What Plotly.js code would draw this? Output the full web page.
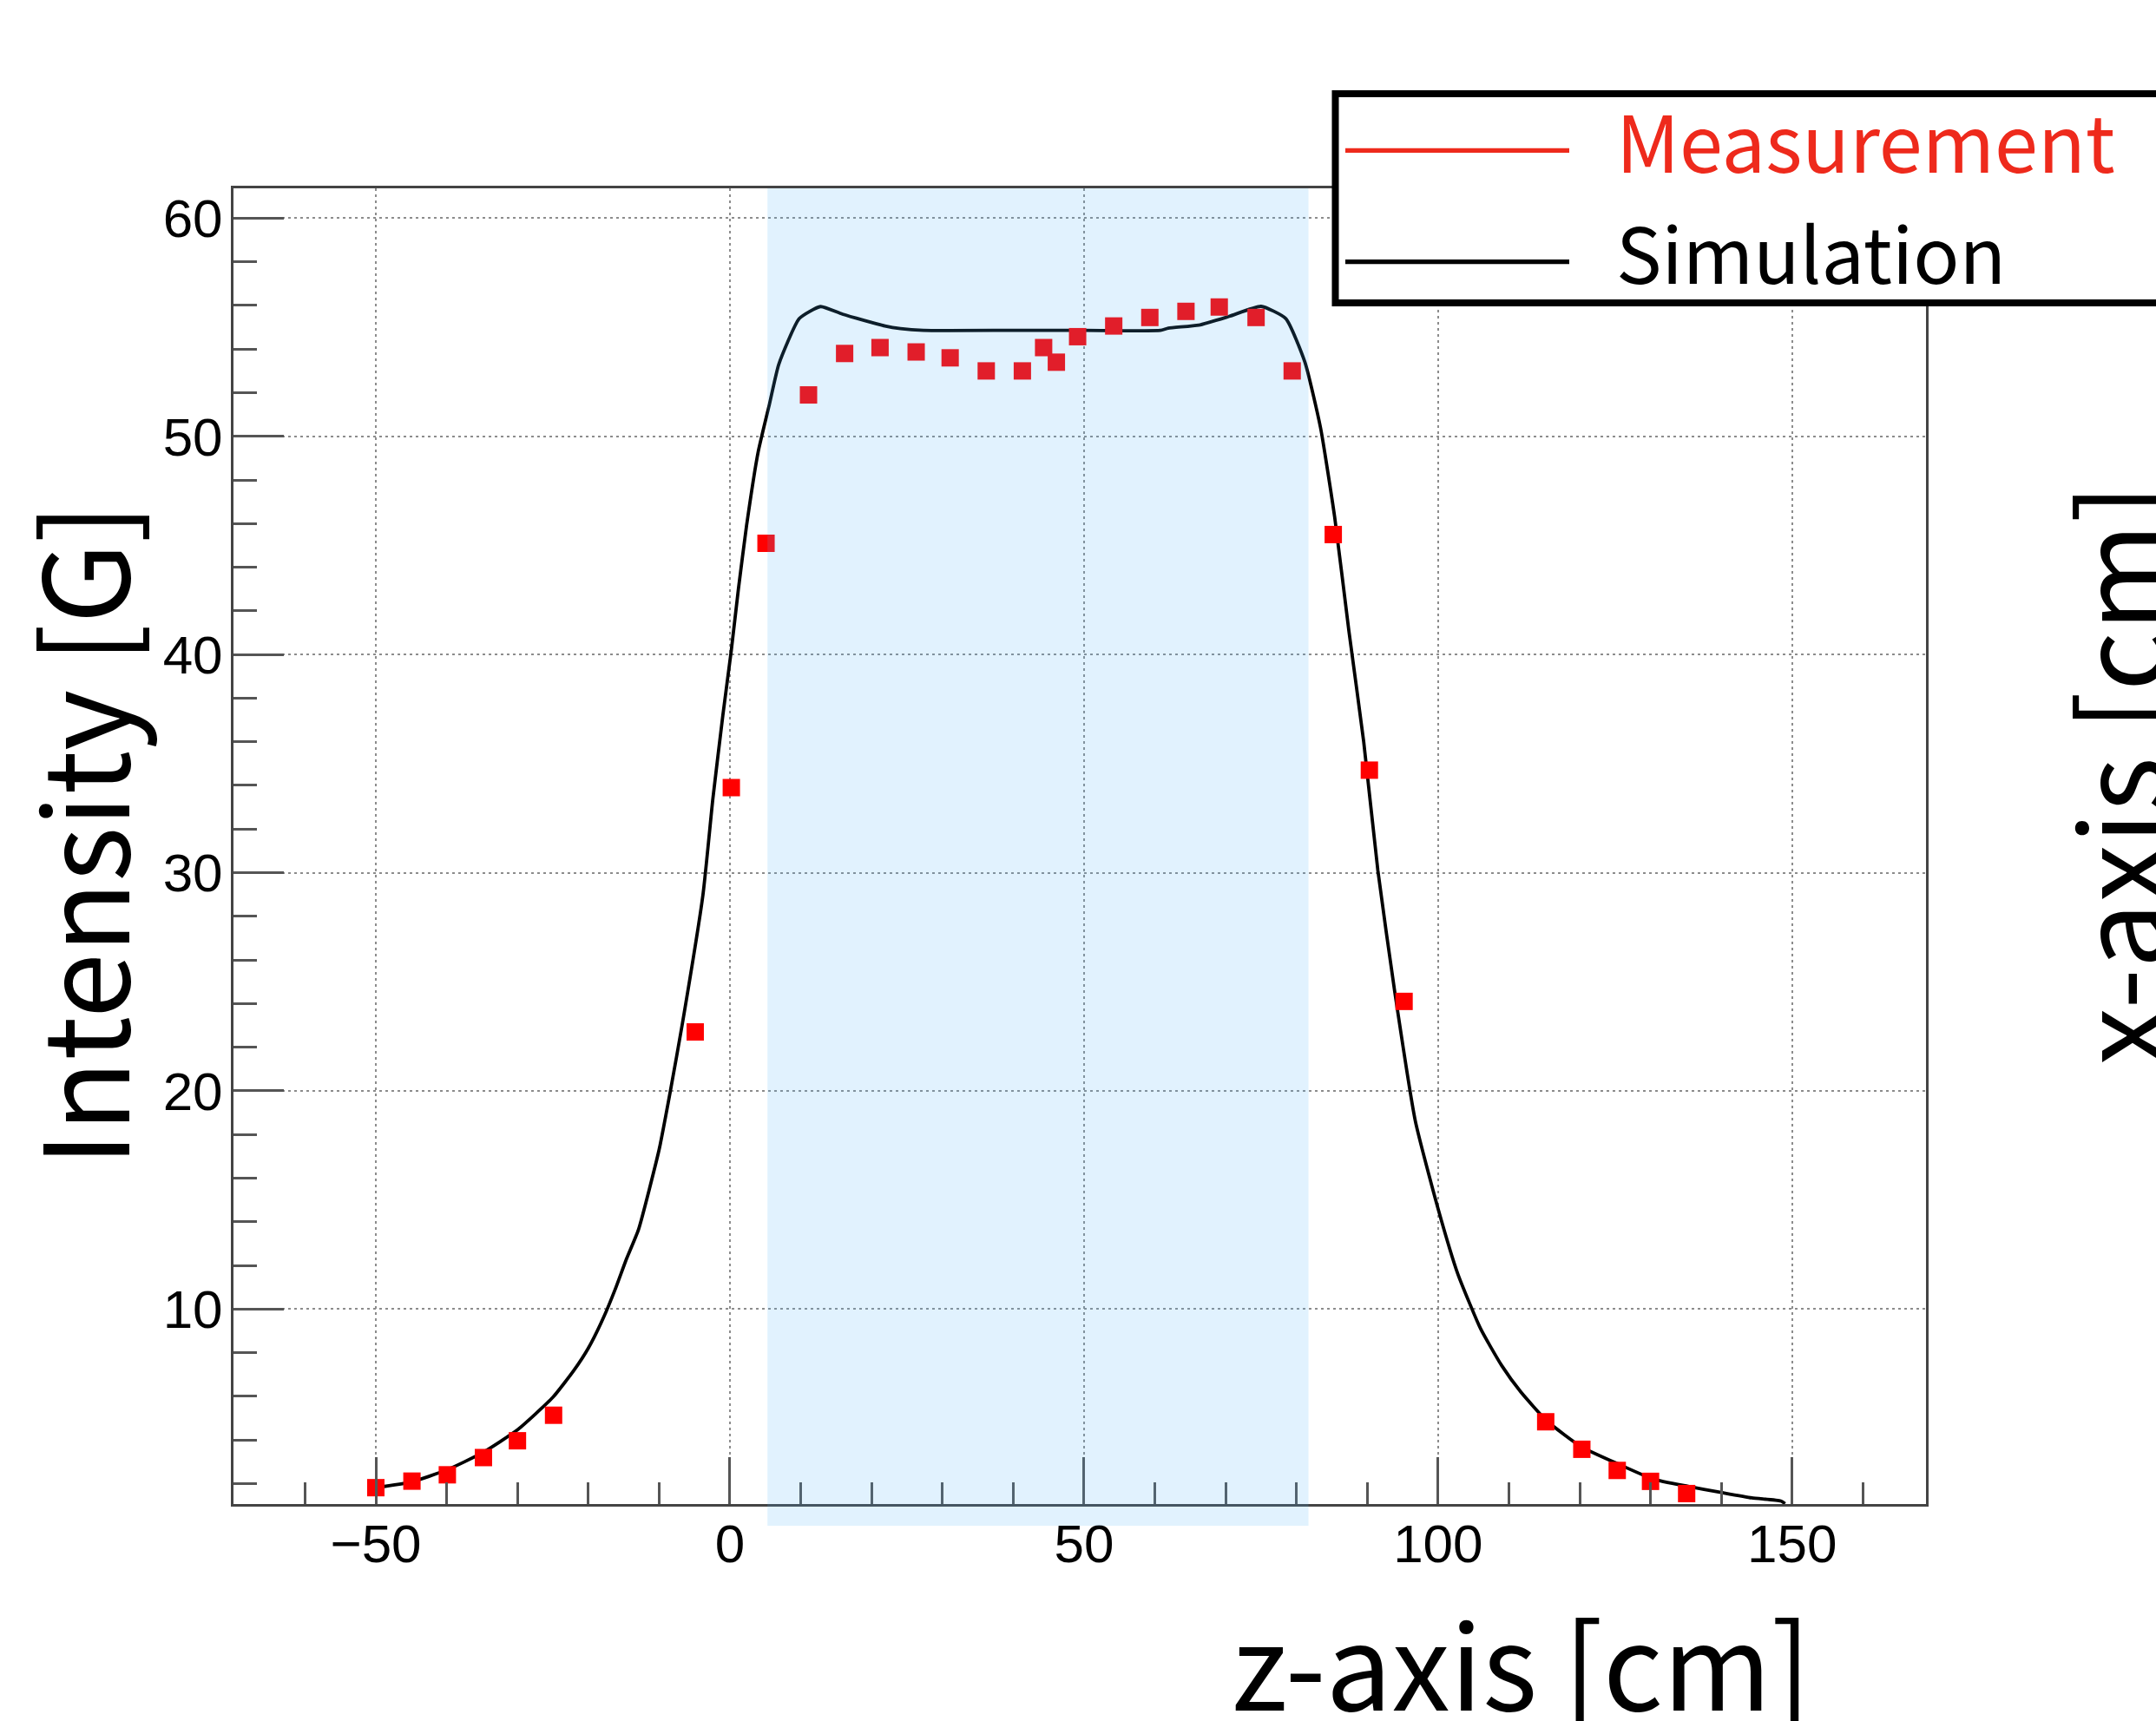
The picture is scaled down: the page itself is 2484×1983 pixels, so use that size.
<!DOCTYPE html>
<html>
<head>
<meta charset="utf-8">
<script src="https://cdn.plot.ly/plotly-3.0.1.min.js"></script>
<style>
  html, body { margin: 0; padding: 0; background: #fff; overflow: hidden; }
  #chart { width: 2484px; height: 1983px; }
</style>
</head>
<body>
<div id="chart"></div>
<script>
// ---------------- data ----------------
const seriesNames = ['Measurement', 'Simulation'];
const xTitle = 'z-axis [cm]';
const yTitle = 'Intensity [G]';
const sideTitle = 'x-axis [cm]';

// Measurement (red squares)
const measZ = [-50, -44.9, -39.9, -34.8, -30, -24.9, -4.9, 0.2, 5.1, 11.1, 16.2, 21.2, 26.3, 31.1, 36.2, 41.3,
               44.3, 46.1, 49.1, 54.2, 59.3, 64.4, 69.1, 74.3, 79.4, 85.2, 90.3, 95.2, 115.2, 120.3, 125.3, 130.0, 135.1];
const measB = [1.81, 2.11, 2.40, 3.19, 3.96, 5.13, 22.7, 33.9, 45.1, 51.9, 53.8, 54.07, 53.87, 53.6, 53.0, 53.0,
               54.07, 53.4, 54.57, 55.06, 55.45, 55.73, 55.93, 55.45, 53.0, 45.5, 34.7, 24.1, 4.83, 3.57, 2.6, 2.1, 1.54];

// Simulation (black curve)
const simZ = [-50, -45, -40, -35, -30, -25, -22, -20, -17.8, -16.2, -14.6, -12.9, -10, -8.4, -6.7, -3.8, -2.4, -1.0, 0.2,
              1.2, 2.35, 4, 5.6, 6.9, 9.8, 12.8, 15.9, 21.9, 24.1, 27.3, 40, 50, 60.8, 61.9, 66.2, 70.5, 75, 78.5,
              81.2, 83.4, 85.4, 87.4, 89.5, 91.5, 93.9, 96.8, 100, 102.8, 106, 109, 111.7, 115.4, 120.3, 125.6,
              130.4, 135.3, 139.8, 144.3, 148.4, 149];
const simB = [1.81, 2.07, 2.62, 3.4, 4.46, 5.95, 7.2, 8.2, 9.64, 10.9, 12.3, 13.65, 17.3, 20, 23.1, 29, 33.4, 37.2, 40.2,
              43.0, 45.9, 49.3, 51.5, 53.3, 55.4, 55.95, 55.6, 55.06, 54.94, 54.86, 54.86, 54.86, 54.86, 54.96, 55.1, 55.5, 55.96, 55.4,
              53.4, 50.4, 46.3, 41.1, 36, 30.1, 24.5, 18.6, 14.6, 11.6, 9.1, 7.4, 6.19, 4.86, 3.67, 2.87,
              2.2, 1.87, 1.6, 1.34, 1.2, 1.08];

// highlighted z band
const bandZ = [5.3, 81.7];

// axis ranges
const xRange = [-70.1, 168.9];
const yRange = [1.06, 61.37];

// ---------------- layout helpers (pixels -> paper) ----------------
const W = 2484, H = 1983;
const L = 269, R = 2219, T = 217, B = 1733;
const PW = R - L, PH = B - T;
const px = v => (v - L) / PW;
const py = v => (B - v) / PH;

const redLegend = '#ee2a1c';
const titleFont = '"Noto Sans CJK JP", "Noto Sans", sans-serif';
const tickFont = '"Liberation Sans", Arial, sans-serif';

const traces = [
  {
    x: simZ, y: simB, type: 'scatter', mode: 'lines', name: seriesNames[1],
    line: {color: '#000', width: 3.8, shape: 'spline', smoothing: 0.5},
    hoverinfo: 'skip'
  },
  {
    x: measZ, y: measB, type: 'scatter', mode: 'markers', name: seriesNames[0],
    marker: {symbol: 'square', size: 20, color: '#ff0000', line: {width: 0}},
    hoverinfo: 'skip'
  }
];

const axisCommon = {
  showline: true, linecolor: '#444', linewidth: 3, mirror: true,
  ticks: 'inside', tickcolor: '#555', tickwidth: 3,
  showgrid: true, gridcolor: '#8c8c8c', gridwidth: 2, griddash: '3px,4px',
  zeroline: false,
  tickfont: {family: tickFont, size: 62, color: '#000'}
};

const layout = {
  width: W, height: H, autosize: false,
  paper_bgcolor: '#fff', plot_bgcolor: '#fff',
  showlegend: false,
  margin: {l: L, r: W - R, t: T, b: H - B, pad: 0},
  xaxis: Object.assign({}, axisCommon, {
    range: xRange, tick0: 0, dtick: 50, ticklen: 54, ticklabelstandoff: -10,
    minor: {tick0: 0, dtick: 10, ticks: 'inside', ticklen: 25, tickwidth: 3, tickcolor: '#555', showgrid: false}
  }),
  yaxis: Object.assign({}, axisCommon, {
    range: yRange, tick0: 0, dtick: 10, ticklen: 58, ticklabelstandoff: -3,
    minor: {tick0: 0, dtick: 2, ticks: 'inside', ticklen: 27, tickwidth: 3, tickcolor: '#555', showgrid: false}
  }),
  shapes: [
    // light blue band (drawn over everything, semi-transparent)
    {type: 'rect', layer: 'above', xref: 'x', yref: 'paper',
     x0: bandZ[0], x1: bandZ[1], y0: -25 / PH, y1: 1,
     fillcolor: 'rgba(77,178,249,0.17)', line: {width: 0}},
    // legend frame
    {type: 'rect', xref: 'paper', yref: 'paper',
     x0: px(1538.5), x1: px(2700), y0: py(349), y1: py(108),
     fillcolor: '#fff', line: {color: '#000', width: 8}},
    // legend samples
    {type: 'line', xref: 'paper', yref: 'paper',
     x0: px(1550), x1: px(1808), y0: py(173.3), y1: py(173.3),
     line: {color: redLegend, width: 5.3}},
    {type: 'line', xref: 'paper', yref: 'paper',
     x0: px(1550), x1: px(1808), y0: py(301.7), y1: py(301.7),
     line: {color: '#000', width: 5.3}}
  ],
  annotations: [
    {text: seriesNames[0], xref: 'paper', yref: 'paper', x: px(1860), y: py(160),
     xanchor: 'left', yanchor: 'middle', showarrow: false,
     font: {family: titleFont, size: 90, color: redLegend}},
    {text: seriesNames[1], xref: 'paper', yref: 'paper', x: px(1860), y: py(288),
     xanchor: 'left', yanchor: 'middle', showarrow: false,
     font: {family: titleFont, size: 88, color: '#000'}},
    {text: yTitle, xref: 'paper', yref: 'paper', x: px(190), y: py(962),
     xanchor: 'right', yanchor: 'middle', textangle: -90, showarrow: false,
     font: {family: titleFont, size: 135, color: '#000'}},
    {text: xTitle, xref: 'paper', yref: 'paper', x: px(1752), y: py(2012),
     xanchor: 'center', yanchor: 'bottom', showarrow: false,
     font: {family: titleFont, size: 135, color: '#000'}},
    {text: sideTitle, xref: 'paper', yref: 'paper', x: px(2536), y: py(893),
     xanchor: 'right', yanchor: 'middle', textangle: -90, showarrow: false,
     font: {family: titleFont, size: 135, color: '#000'}}
  ]
};

Plotly.newPlot('chart', traces, layout, {staticPlot: true, displayModeBar: false});
</script>
</body>
</html>
